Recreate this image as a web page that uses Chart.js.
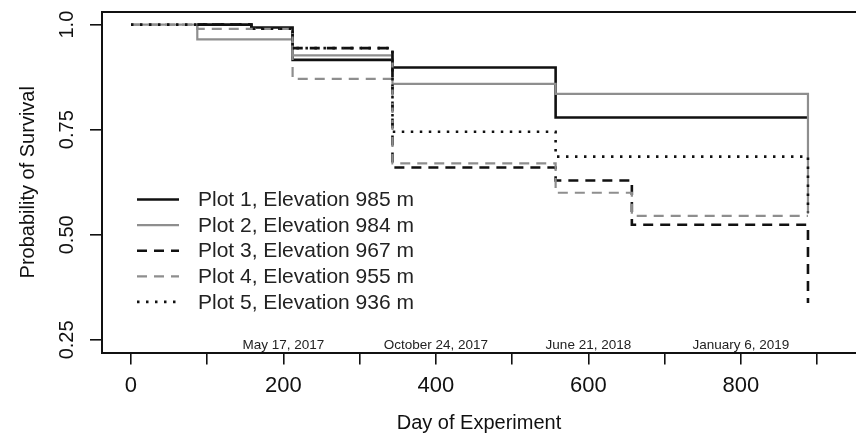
<!DOCTYPE html>
<html>
<head>
<meta charset="utf-8">
<script src="https://cdn.jsdelivr.net/npm/chart.js@4.4.1/dist/chart.umd.min.js"></script>
<style>
  html, body { margin: 0; padding: 0; background: #fff; }
  canvas { display: block; }
</style>
</head>
<body>
<canvas id="survival" width="856" height="439"></canvas>
<script>
// Kaplan-Meier steps per plot: day of experiment and survival from that day on
var plot1Days = [87, 158, 212, 343, 557, 888];
var plot1Surv = [1.0, 0.993, 0.916, 0.898, 0.779, 0.779];
var plot2Days = [0, 87, 212, 343, 557, 888];
var plot2Surv = [1.0, 0.965, 0.927, 0.859, 0.835, 0.55];
var plot3Days = [87, 158, 212, 343, 557, 657, 888];
var plot3Surv = [1.0, 0.99, 0.944, 0.660, 0.629, 0.524, 0.338];
var plot4Days = [0, 87, 212, 343, 557, 657, 888];
var plot4Surv = [1.0, 0.99, 0.871, 0.670, 0.600, 0.545, 0.545];
var plot5Days = [0, 158, 212, 343, 557, 888];
var plot5Surv = [1.0, 0.99, 0.944, 0.745, 0.686, 0.553];

var plotLabels = [
  'Plot 1, Elevation 985 m',
  'Plot 2, Elevation 984 m',
  'Plot 3, Elevation 967 m',
  'Plot 4, Elevation 955 m',
  'Plot 5, Elevation 936 m'
];

var xTicks = [0, 100, 200, 300, 400, 500, 600, 700, 800, 900];
var xTickLabels = ['0', '', '200', '', '400', '', '600', '', '800', ''];
var yTicks = [0.25, 0.5, 0.75, 1.0];
var yTickLabels = ['0.25', '0.50', '0.75', '1.0'];

var dateDays = [200, 400, 600, 800];
var dateLabels = ['May 17, 2017', 'October 24, 2017', 'June 21, 2018', 'January 6, 2019'];

var sans = '"Liberation Sans", Arial, sans-serif';
var ink = '#111';
var grey = '#8e8e8e';

function steps(days, surv) {
  return days.map(function(d, i) { return { x: d, y: surv[i] }; });
}

function line(label, days, surv, color, width, dash, order) {
  return {
    label: label,
    data: steps(days, surv),
    borderColor: color,
    borderWidth: width,
    borderDash: dash,
    borderCapStyle: 'butt',
    stepped: true,
    fill: false,
    pointRadius: 0,
    order: order
  };
}

// top frame line, date notes along the bottom and the legend box
var extras = {
  id: 'extras',
  afterDraw: function(chart) {
    var ctx = chart.ctx;
    var area = chart.chartArea;
    var xs = chart.scales.x;
    ctx.save();

    ctx.strokeStyle = ink;
    ctx.lineWidth = 2;
    ctx.beginPath();
    ctx.moveTo(area.left - 1, area.top);
    ctx.lineTo(area.right, area.top);
    ctx.stroke();

    ctx.fillStyle = '#222';
    ctx.font = '13.5px ' + sans;
    ctx.textAlign = 'center';
    ctx.textBaseline = 'alphabetic';
    dateDays.forEach(function(d, i) {
      ctx.fillText(dateLabels[i], xs.getPixelForValue(d), area.bottom - 4);
    });

    ctx.textAlign = 'left';
    ctx.textBaseline = 'middle';
    ctx.font = '21px ' + sans;
    chart.data.datasets.forEach(function(ds, i) {
      var y = 199.5 + i * 25.6;
      ctx.beginPath();
      ctx.setLineDash(ds.borderDash);
      ctx.strokeStyle = ds.borderColor;
      ctx.lineWidth = ds.borderWidth;
      ctx.moveTo(137, y);
      ctx.lineTo(179, y);
      ctx.stroke();
      ctx.setLineDash([]);
      ctx.fillStyle = '#222';
      ctx.fillText(ds.label, 198, y + 1);
    });
    ctx.restore();
  }
};

new Chart(document.getElementById('survival'), {
  type: 'line',
  data: {
    datasets: [
      line(plotLabels[0], plot1Days, plot1Surv, ink, 2.6, [], 4),
      line(plotLabels[1], plot2Days, plot2Surv, grey, 2.2, [], 3),
      line(plotLabels[2], plot3Days, plot3Surv, ink, 2.6, [10, 7], 2),
      line(plotLabels[3], plot4Days, plot4Surv, grey, 2.2, [10, 7], 1),
      line(plotLabels[4], plot5Days, plot5Surv, ink, 2.6, [2.5, 6.5], 0)
    ]
  },
  options: {
    responsive: false,
    animation: false,
    devicePixelRatio: 1,
    layout: { padding: { top: 12, right: 0, bottom: 0, left: 0 } },
    plugins: {
      legend: { display: false },
      tooltip: { enabled: false }
    },
    scales: {
      x: {
        type: 'linear',
        min: -38,
        max: 951,
        afterBuildTicks: function(s) { s.ticks = xTicks.map(function(v) { return { value: v }; }); },
        afterFit: function(s) { s.height = 86.5; s.paddingLeft = 0; s.paddingRight = 0; },
        grid: { drawOnChartArea: false, drawTicks: true, tickLength: 12, color: ink, lineWidth: 1.6 },
        border: { display: true, color: ink, width: 2 },
        ticks: {
          autoSkip: false, maxRotation: 0, padding: 8, color: ink,
          font: { family: sans, size: 22 },
          callback: function(v, i) { return xTickLabels[i]; }
        },
        title: {
          display: true, text: 'Day of Experiment', color: ink,
          font: { family: sans, size: 20 }, padding: { top: 0, bottom: 4 }
        }
      },
      y: {
        min: 0.22,
        max: 1.03,
        afterBuildTicks: function(s) { s.ticks = yTicks.map(function(v) { return { value: v }; }); },
        afterFit: function(s) { s.width = 102; s.paddingTop = 0; s.paddingBottom = 0; },
        grid: { drawOnChartArea: false, drawTicks: true, tickLength: 12, color: ink, lineWidth: 1.6 },
        border: { display: true, color: ink, width: 2 },
        ticks: {
          autoSkip: false, minRotation: 90, maxRotation: 90, crossAlign: 'center', padding: 3.5, color: ink,
          font: { family: sans, size: 20 },
          callback: function(v, i) { return yTickLabels[i]; }
        },
        title: {
          display: true, text: 'Probability of Survival', color: ink,
          font: { family: sans, size: 20 }, padding: { top: 16, bottom: 0 }
        }
      }
    }
  },
  plugins: [extras]
});
</script>
</body>
</html>
